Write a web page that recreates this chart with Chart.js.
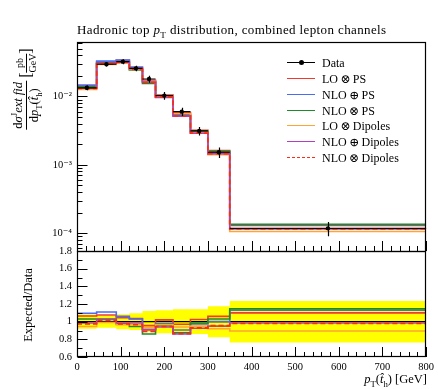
<!DOCTYPE html>
<html>
<head>
<meta charset="utf-8">
<script src="https://cdn.jsdelivr.net/npm/chart.js@4"></script>
<style>
  body { margin: 0; background: #fff; }
  #wrap { position: relative; width: 438px; height: 389px; font-family: 'Liberation Serif', 'DejaVu Serif', serif; color: #000; }
  canvas { position: absolute; left: 0; top: 0; }
  .lbl { position: absolute; white-space: nowrap; line-height: 1; }
  .rot { transform: translate(-50%, -50%) rotate(-90deg); }
  .frac { display: inline-flex; flex-direction: column; vertical-align: middle; text-align: center; }
  .frac .num { border-bottom: 1px solid #000; padding: 0 1px 1px 1px; }
  .frac .den { padding-top: 1px; }
  sub, sup { font-size: 70%; line-height: 0; }
  #legend { position: absolute; left: 287px; top: 55px; font-size: 12px; }
  .row { position: absolute; left: 0; height: 16px; white-space: nowrap; }
  .row .sw { position: absolute; left: 0; top: 7px; width: 28px; height: 0; border-top: 1.5px solid; }
  .row .tx { position: absolute; left: 35px; top: 1px; }
</style>
</head>
<body>
<div id="wrap">
  <canvas id="chart" width="438" height="389"></canvas>
  <div class="lbl" id="title" style="left:77px; top:23px; font-size:13px; letter-spacing:0.38px;">Hadronic top <i>p</i><sub>T</sub> distribution, combined lepton channels</div>
  <div class="lbl rot" style="left:26px; top:89px; font-size:12.5px;">
    <span class="frac"><span class="num">d<i>σ</i><sup>J</sup><i>ext fid</i></span><span class="den">d<i>p</i><sub>T</sub>(<i>t̂</i><sub>h</sub>)</span></span>
    <span style="font-size:16px; vertical-align:middle;">[</span><span class="frac" style="font-size:10px;"><span class="num">pb</span><span class="den">GeV</span></span><span style="font-size:16px; vertical-align:middle;">]</span>
  </div>
  <div class="lbl rot" style="left:28px; top:305px; font-size:12.5px;">Expected/Data</div>
  <div class="lbl" style="right:11px; top:373px; font-size:12.5px;"><i>p</i><sub>T</sub>(<i>t̂</i><sub>h</sub>) [GeV]</div>
  <div id="legend"></div>
</div>
<script>
// histogram binning in GeV
const binEdges = [0, 45, 90, 120, 150, 180, 220, 260, 300, 350, 800];

// measured data (pb/GeV) and relative uncertainty
const dataValues = [0.0134, 0.0296, 0.0323, 0.0258, 0.0180, 0.0103, 0.0060, 0.00313, 0.00153, 0.000118];
const dataRelErr = [0.08, 0.07, 0.085, 0.095, 0.12, 0.13, 0.14, 0.14, 0.175, 0.235];

// predictions (pb/GeV)
const loPS      = [0.0143, 0.0318, 0.0338, 0.0267, 0.0172, 0.0105, 0.00582, 0.00321, 0.00162, 0.000130];
const nloPlusPS = [0.0147, 0.0329, 0.0342, 0.0266, 0.0165, 0.0100, 0.00543, 0.00305, 0.00153, 0.000133];
const nloPS     = [0.0138, 0.0305, 0.0315, 0.0244, 0.0155, 0.00984, 0.00525, 0.00308, 0.00158, 0.000135];
const loDip     = [0.0127, 0.0293, 0.0312, 0.0249, 0.0167, 0.00994, 0.00564, 0.00297, 0.00141, 0.000106];
const nloPlusDip= [0.0132, 0.0303, 0.0318, 0.0254, 0.0163, 0.00968, 0.00516, 0.00290, 0.00145, 0.000116];
const nloDip    = [0.0131, 0.0300, 0.0315, 0.0249, 0.0160, 0.00973, 0.00519, 0.00291, 0.00146, 0.000116];

// ratios expected / data
const loPSRatio       = [1.065, 1.075, 1.045, 1.035, 0.955, 1.02, 0.97, 1.025, 1.06, 1.10];
const nloPlusPSRatio  = [1.095, 1.11, 1.06, 1.03, 0.915, 0.975, 0.905, 0.975, 1.0, 1.13];
const nloPSRatio      = [1.03, 1.03, 0.975, 0.945, 0.86, 0.955, 0.875, 0.985, 1.03, 1.145];
const loDipRatio      = [0.945, 0.99, 0.965, 0.965, 0.93, 0.965, 0.94, 0.95, 0.92, 0.895];
const nloPlusDipRatio = [0.985, 1.025, 0.985, 0.985, 0.905, 0.94, 0.86, 0.925, 0.95, 0.985];
const nloDipRatio     = [0.975, 1.015, 0.975, 0.965, 0.89, 0.945, 0.865, 0.93, 0.955, 0.98];

// tick values
const xTicks = [0, 100, 200, 300, 400, 500, 600, 700, 800];
const logTicks = [1e-4, 1e-3, 1e-2];
const ratioTicks = [0.6, 0.8, 1.0, 1.2, 1.4, 1.6, 1.8];

const models = [
  { label: 'LO\u2009⊗\u2009PS',       top: loPS,       ratio: loPSRatio,       color: '#ee3b2e', dash: [] },
  { label: 'NLO\u2009⊕\u2009PS',      top: nloPlusPS,  ratio: nloPlusPSRatio,  color: '#4a6cf0', dash: [] },
  { label: 'NLO\u2009⊗\u2009PS',      top: nloPS,      ratio: nloPSRatio,      color: '#1f8a2a', dash: [] },
  { label: 'LO\u2009⊗\u2009Dipoles',  top: loDip,      ratio: loDipRatio,      color: '#ffa534', dash: [] },
  { label: 'NLO\u2009⊕\u2009Dipoles', top: nloPlusDip, ratio: nloPlusDipRatio, color: '#b13fc0', dash: [] },
  { label: 'NLO\u2009⊗\u2009Dipoles', top: nloDip,     ratio: nloDipRatio,     color: '#ff2a12', dash: [5, 3] }
];

const serif = "'Liberation Serif', 'DejaVu Serif', serif";

// histogram outline points: left edge of each bin plus the last right edge
function steps(vals) {
  const pts = vals.map((v, i) => ({ x: binEdges[i], y: v }));
  pts.push({ x: binEdges[binEdges.length - 1], y: vals[vals.length - 1] });
  return pts;
}

const binCenters = dataValues.map((v, i) => (binEdges[i] + binEdges[i + 1]) / 2);

const datasets = [];
// data markers on top
datasets.push({
  label: 'Data', yAxisID: 'y', order: 0,
  data: dataValues.map((v, i) => ({ x: binCenters[i], y: v })),
  showLine: false, pointRadius: 2.2, pointBackgroundColor: '#000', pointBorderWidth: 0
});
models.forEach((m, i) => {
  datasets.push({
    label: m.label, yAxisID: 'y', order: 10 - i,
    data: steps(m.top), stepped: 'before', borderColor: m.color, borderWidth: 1.6,
    borderDash: m.dash, pointRadius: 0, fill: false
  });
  datasets.push({
    label: m.label + ' ratio', yAxisID: 'yr', order: 10 - i,
    data: steps(m.ratio), stepped: 'before', borderColor: m.color, borderWidth: 1.6,
    borderDash: m.dash, pointRadius: 0, fill: false
  });
});
// data/data line
datasets.push({
  label: 'unity', yAxisID: 'yr', order: 20,
  data: steps(dataValues.map(() => 1)), stepped: 'before', borderColor: '#000', borderWidth: 1.3,
  pointRadius: 0, fill: false
});
// uncertainty band
datasets.push({
  label: 'band up', yAxisID: 'yr', order: 30,
  data: steps(dataRelErr.map(e => 1 + e)), stepped: 'before', borderWidth: 0, pointRadius: 0,
  backgroundColor: '#ffff00', fill: '+1'
});
datasets.push({
  label: 'band down', yAxisID: 'yr', order: 31,
  data: steps(dataRelErr.map(e => 1 - e)), stepped: 'before', borderWidth: 0, pointRadius: 0,
  fill: false
});

// frames, inward ticks and data error bars
const framePlugin = {
  id: 'frame',
  afterDatasetsDraw(chart) {
    const { ctx, scales } = chart;
    const x = scales.x, y = scales.y, yr = scales.yr;
    ctx.save();
    ctx.strokeStyle = '#000';
    ctx.lineWidth = 1.2;

    // data: horizontal bin line and vertical error bar
    dataValues.forEach((v, i) => {
      const py = y.getPixelForValue(v);
      ctx.beginPath();
      ctx.moveTo(x.getPixelForValue(binEdges[i]), py);
      ctx.lineTo(x.getPixelForValue(binEdges[i + 1]), py);
      const px = Math.round(x.getPixelForValue(binCenters[i])) + 0.5;
      ctx.moveTo(px, y.getPixelForValue(v * (1 + dataRelErr[i])));
      ctx.lineTo(px, y.getPixelForValue(v * (1 - dataRelErr[i])));
      ctx.stroke();
    });

    const L = Math.round(x.left) + 0.5, R = Math.round(x.right) - 0.5;
    ctx.lineWidth = 1.2;
    ctx.strokeRect(L, Math.round(y.top) + 0.5, R - L, Math.round(y.bottom) - Math.round(y.top));
    ctx.strokeRect(L, Math.round(yr.top) + 0.5, R - L, Math.round(yr.bottom) - Math.round(yr.top) - 1);

    ctx.lineWidth = 1;
    ctx.beginPath();
    // log ticks on the upper panel
    for (let e = -5; e <= -1; e++) {
      for (let m = 1; m <= 9; m++) {
        const v = m * Math.pow(10, e);
        if (v < y.min || v > y.max) continue;
        const py = Math.round(y.getPixelForValue(v)) + 0.5;
        ctx.moveTo(L, py);
        ctx.lineTo(L + (m === 1 ? 10 : 5), py);
      }
    }
    // ratio ticks
    for (let k = 6; k <= 18; k++) {
      const v = k / 10;
      const py = Math.round(yr.getPixelForValue(v)) + 0.5;
      ctx.moveTo(L, py);
      ctx.lineTo(L + (k % 2 === 0 ? 10 : 5), py);
    }
    // x ticks on both panels
    for (let g = 0; g <= 800; g += 20) {
      const px = Math.round(x.getPixelForValue(g)) + 0.5;
      const len = g % 100 === 0 ? 10 : 5;
      ctx.moveTo(px, Math.round(y.bottom));
      ctx.lineTo(px, Math.round(y.bottom) - len);
      ctx.moveTo(px, Math.round(yr.bottom));
      ctx.lineTo(px, Math.round(yr.bottom) - len);
    }
    ctx.stroke();
    ctx.restore();
  }
};

function supNum(n) {
  const map = { '-': '⁻', '0': '⁰', '1': '¹', '2': '²', '3': '³', '4': '⁴', '5': '⁵' };
  return String(n).split('').map(c => map[c]).join('');
}

new Chart(document.getElementById('chart'), {
  type: 'line',
  data: { datasets: datasets },
  plugins: [framePlugin],
  options: {
    responsive: false,
    animation: false,
    devicePixelRatio: 1,
    layout: { padding: { left: 0, top: 42, right: 11, bottom: 0 } },
    plugins: { legend: { display: false }, tooltip: { enabled: false } },
    scales: {
      x: {
        type: 'linear', min: 0, max: 800,
        grid: { display: false, drawTicks: false }, border: { display: false },
        afterBuildTicks: s => { s.ticks = xTicks.map(v => ({ value: v })); },
        afterFit: s => { s.height = 32; },
        ticks: { font: { family: serif, size: 10.5 }, color: '#000', padding: 4, maxRotation: 0, autoSkip: false }
      },
      y: {
        type: 'logarithmic', min: 5.5e-5, max: 0.0626,
        position: 'left', stack: 'panels', stackWeight: 209, weight: 2,
        grid: { display: false, drawTicks: false }, border: { display: false },
        afterBuildTicks: s => { s.ticks = logTicks.map(v => ({ value: v })); },
        afterFit: s => { s.width = 77; },
        ticks: {
          font: { family: serif, size: 10.5 }, color: '#000', padding: 5, autoSkip: false,
          callback: v => '10' + supNum(Math.round(Math.log10(v)))
        }
      },
      yr: {
        type: 'linear', min: 0.6, max: 1.8,
        position: 'left', stack: 'panels', stackWeight: 106, weight: 1,
        grid: { display: false, drawTicks: false }, border: { display: false },
        afterBuildTicks: s => { s.ticks = ratioTicks.map(v => ({ value: v })); },
        afterFit: s => { s.width = 77; },
        ticks: {
          font: { family: serif, size: 10.5 }, color: '#000', padding: 5, autoSkip: false,
          callback: v => String(Math.round(v * 10) / 10)
        }
      }
    }
  }
});

// legend
const legend = document.getElementById('legend');
const rows = [{ label: 'Data', color: '#000', dash: [] }].concat(models);
rows.forEach((r, i) => {
  const row = document.createElement('div');
  row.className = 'row';
  row.style.top = (i === 0 ? 0 : 16 + (i - 1) * 15.8) + 'px';
  const sw = document.createElement('span');
  sw.className = 'sw';
  sw.style.borderTopColor = r.color;
  if (r.dash.length) sw.style.borderTopStyle = 'dashed';
  row.appendChild(sw);
  if (i === 0) {
    const dot = document.createElement('span');
    dot.style.cssText = 'position:absolute;left:11.5px;top:5px;width:5px;height:5px;border-radius:50%;background:#000;';
    row.appendChild(dot);
  }
  const tx = document.createElement('span');
  tx.className = 'tx';
  tx.textContent = r.label;
  row.appendChild(tx);
  legend.appendChild(row);
});
</script>
</body>
</html>
